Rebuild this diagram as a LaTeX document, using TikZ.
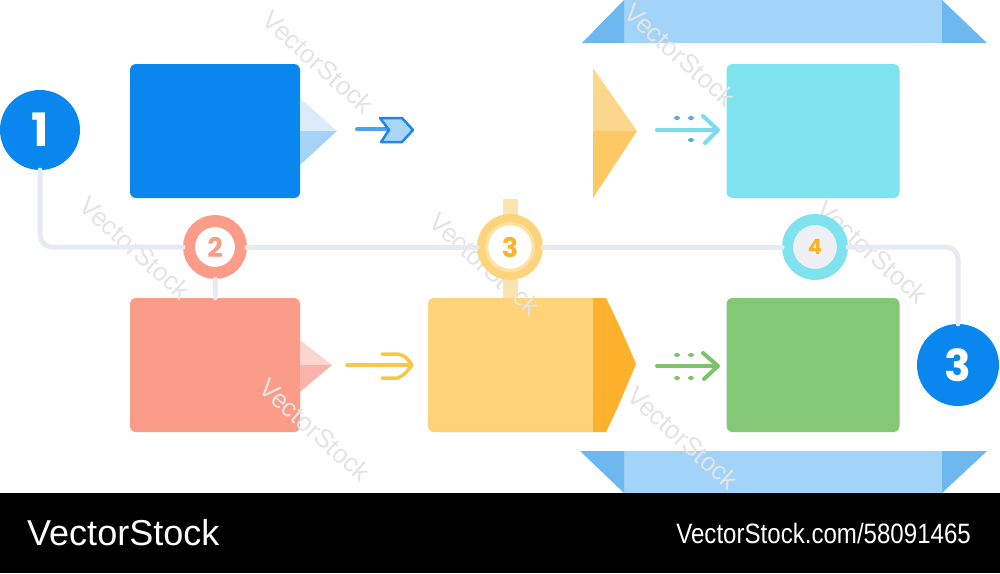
\documentclass[tikz,border=0pt]{standalone}
\usepackage{fontspec}
\setmainfont{Liberation Sans}
\newfontfamily\numfont{Poppins}
\definecolor{bblue}{HTML}{0A87EE}
\definecolor{salmon}{HTML}{FB9C88}
\definecolor{ybox}{HTML}{FED379}
\definecolor{yorange}{HTML}{FEB12C}
\definecolor{gbox}{HTML}{84C777}
\definecolor{cbox}{HTML}{7EE3EE}
\definecolor{gline}{HTML}{E8EAF2}
\definecolor{bandL}{HTML}{A2D3F8}
\definecolor{bandD}{HTML}{6DB8EE}
\definecolor{wm}{HTML}{E4E4E4}
\definecolor{tipBa}{HTML}{DCEBF9}
\definecolor{tipBb}{HTML}{A5D2F7}
\definecolor{tipSa}{HTML}{FDD5D0}
\definecolor{tipSb}{HTML}{F9B4AA}
\definecolor{tipYa}{HTML}{FDD88C}
\definecolor{tipYb}{HTML}{FEC865}
\definecolor{band3}{HTML}{FDE3AE}
\definecolor{ring3}{HTML}{FDD47C}
\definecolor{ring3in}{HTML}{FDE2A4}
\definecolor{c4in}{HTML}{EEF0F5}
\definecolor{arB}{HTML}{4BA3EF}
\definecolor{arBfill}{HTML}{A8D5F8}
\definecolor{arBdraw}{HTML}{1C86EC}
\definecolor{arY}{HTML}{FBC548}
\definecolor{arC}{HTML}{7ADDEC}
\definecolor{dotB}{HTML}{5BA8E8}
\definecolor{arG}{HTML}{7DC36B}
\begin{document}
\begin{tikzpicture}[x=1pt,y=-1pt,
  box/.style={rectangle, rounded corners=6pt, minimum width=170pt, minimum height=134pt, inner sep=0pt},
  conn/.style={draw=gline, line width=5pt, rounded corners=12pt, line cap=round},
  ring/.style={circle, inner sep=0pt, line width=12pt, fill=white},
  num/.style={font=\numfont\bfseries\fontsize{27}{27}\selectfont},
  wmark/.style={font=\fontsize{26}{26}\selectfont, text=wm, rotate=-42, inner sep=0pt}]
\useasboundingbox (0,0) rectangle (1000,573);
\fill[white] (0,0) rectangle (1000,493);

% banners
\fill[bandL] (624,0) rectangle (942,43);
\fill[bandD] (582,43) -- (624,0) -- (624,43) -- cycle;
\fill[bandD] (942,0) -- (987,43) -- (942,43) -- cycle;
\fill[bandL] (624,451) rectangle (942,493);
\fill[bandD] (580,451) -- (624,451) -- (624,493) -- cycle;
\fill[bandD] (942,451) -- (987,451) -- (942,493) -- cycle;

% boxes
\node[box, fill=bblue] (b1) at (215,131) {};
\node[box, fill=salmon] (b2) at (215,365) {};
\node[box, fill=ybox, minimum width=172pt] (b3) at (514,365) {};
\node[box, fill=gbox, minimum width=173pt] (b4) at (813,365) {};
\node[box, fill=cbox, minimum width=173pt] (b5) at (813,131) {};

% tips
\fill[tipBa] (300,98) -- (337,131) -- (300,131) -- cycle;
\fill[tipBb] (300,131) -- (337,131) -- (300,165) -- cycle;
\fill[tipSa] (300,340) -- (332,365) -- (300,365) -- cycle;
\fill[tipSb] (300,365) -- (332,365) -- (300,392) -- cycle;
\fill[yorange] (593,298) -- (606,298) .. controls (616,318) and (626,340) .. (636,364)
  .. controls (626,388) and (616,412) .. (606,432) -- (593,432) -- cycle;
\fill[tipYa] (593,68) -- (637,131) -- (593,131) -- cycle;
\fill[tipYb] (593,131) -- (637,131) -- (593,198) -- cycle;

% watermarks
\node[wmark] (w1) at (318,62) {VectorStock};
\node[wmark] (w2) at (135,248) {VectorStock};
\node[wmark] (w3) at (485,264) {VectorStock};
\node[wmark] (w4) at (315,430) {VectorStock};
\node[wmark] (w5) at (872,252) {VectorStock};
\node[wmark] (w6) at (680,55) {VectorStock};
\node[wmark] (w7) at (683,438) {VectorStock};

% connectors and circles
\fill[band3] (503,199) rectangle (518,298);
\node[circle, fill=bblue, minimum size=80pt, inner sep=0pt, text=white,
  font=\numfont\bfseries\fontsize{46}{46}\selectfont] (c1) at (40,130) {1};
\node[ring, draw=salmon, minimum size=52pt, text=salmon, num] (c2) at (215,247) {2};
\node[ring, draw=ring3, line width=11pt, minimum size=55pt, text=yorange, num] (c3) at (510,247) {3};
\draw[ring3in, line width=3pt] (c3.center) circle (23.5pt);
\node[ring, draw=cbox, fill=c4in, line width=11pt, minimum size=55pt, text=yorange,
  font=\numfont\bfseries\fontsize{21}{21}\selectfont] (c4) at (815,247) {4};
\node[circle, fill=bblue, minimum size=82pt, inner sep=0pt, text=white,
  font=\numfont\bfseries\fontsize{44}{44}\selectfont] (c5) at (958,365) {3};

\draw[conn] (c1.south) |- (c2.west);
\draw[conn] (c2.east) -- (c3.west);
\draw[conn] (c3.east) -- (c4.west);
\draw[conn] (c4.east) -| (c5.north);
\draw[conn, rounded corners=0pt] (c2.south) -- (b2.north);

% arrows
\coordinate (a1s) at (357,129);
\coordinate (a1e) at (395,129);
\draw[arB, line width=4pt, line cap=round] (a1s) -- (a1e);
\filldraw[fill=arBfill, draw=arBdraw, line width=2.5pt, line join=round]
  (380,118) -- (402,118) -- (413,130) -- (402,142) -- (381,142) -- (389,130) -- cycle;

\coordinate (a2s) at (347,365);
\coordinate (a2e) at (411,365);
\draw[arY, line width=3.5pt, line cap=round] (a2s) -- (a2e);
\draw[arY, line width=3.5pt, line cap=round, line join=round]
  (382,354) -- (398,354) .. controls (405,356) .. (412,365) .. controls (405,374) .. (398,378) -- (382,378);

\coordinate (a3s) at (657,130);
\coordinate (a3e) at (717,130);
\draw[arC, line width=4pt, line cap=round] (a3s) -- (a3e);
\draw[arC, line width=4pt, line cap=round, line join=round] (703,116) -- (718,130) -- (705,143);
\foreach \p in {(677,118),(691,118),(691,140)} \fill[dotB] \p ellipse (3pt and 2pt);

\coordinate (a4s) at (657,366);
\coordinate (a4e) at (717,366);
\draw[arG, line width=4pt, line cap=round] (a4s) -- (a4e);
\draw[arG, line width=4pt, line cap=round, line join=round] (703,353) -- (718,366) -- (704,379);
\foreach \p in {(677,355),(691,355),(677,378),(691,378)} \fill[arG] \p ellipse (3pt and 2pt);

% footer
\fill[black] (0,493) rectangle (1000,573);
\node[anchor=base west, inner sep=0pt, text=white, font=\fontsize{36}{36}\selectfont] (t1) at (27,545) {VectorStock};
\node[anchor=base east, inner sep=0pt, text=white, xscale=0.86, font=\fontsize{28}{28}\selectfont] (t2) at (971,543) {VectorStock.com/58091465};
\end{tikzpicture}
\end{document}
